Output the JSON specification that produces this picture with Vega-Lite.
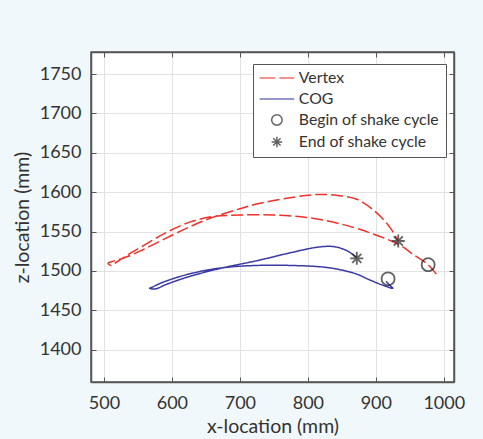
{
  "$schema": "https://vega.github.io/schema/vega-lite/v6.json",
  "width": 363,
  "height": 330,
  "autosize": "none",
  "padding": {"left": 91, "top": 52, "right": 29, "bottom": 57},
  "background": "#f1f8fc",
  "config": {
    "view": {"fill": "white", "stroke": "#555", "strokeWidth": 1.5},
    "axis": {
      "labelFont": "Lato",
      "labelFontSize": 18,
      "labelColor": "#333",
      "titleFont": "Lato",
      "titleFontSize": 19.5,
      "titleFontWeight": "normal",
      "titleColor": "#333",
      "domainColor": "#555",
      "domainWidth": 1.5,
      "gridColor": "#e2e2e2",
      "gridWidth": 1,
      "tickColor": "#555",
      "tickSize": -5,
      "tickWidth": 1,
      "format": "d"
    }
  },
  "layer": [
    {
      "data": {"values": [
        {"s": "Vertex", "o": 1, "x": 989, "z": 1496},
        {"s": "Vertex", "o": 2, "x": 977, "z": 1508},
        {"s": "Vertex", "o": 3, "x": 955, "z": 1521},
        {"s": "Vertex", "o": 4, "x": 935, "z": 1533},
        {"s": "Vertex", "o": 5, "x": 896, "z": 1547},
        {"s": "Vertex", "o": 6, "x": 847, "z": 1560},
        {"s": "Vertex", "o": 7, "x": 798, "z": 1568},
        {"s": "Vertex", "o": 8, "x": 749, "z": 1571},
        {"s": "Vertex", "o": 9, "x": 700, "z": 1571},
        {"s": "Vertex", "o": 10, "x": 660, "z": 1569},
        {"s": "Vertex", "o": 11, "x": 626, "z": 1562},
        {"s": "Vertex", "o": 12, "x": 590, "z": 1548},
        {"s": "Vertex", "o": 13, "x": 560, "z": 1533},
        {"s": "Vertex", "o": 14, "x": 538, "z": 1522},
        {"s": "Vertex", "o": 15, "x": 520, "z": 1512},
        {"s": "Vertex", "o": 16, "x": 510, "z": 1507},
        {"s": "Vertex", "o": 17, "x": 506, "z": 1510},
        {"s": "Vertex", "o": 18, "x": 512, "z": 1512},
        {"s": "Vertex", "o": 19, "x": 528, "z": 1516},
        {"s": "Vertex", "o": 20, "x": 555, "z": 1526},
        {"s": "Vertex", "o": 21, "x": 590, "z": 1541},
        {"s": "Vertex", "o": 22, "x": 626, "z": 1556},
        {"s": "Vertex", "o": 23, "x": 660, "z": 1568},
        {"s": "Vertex", "o": 24, "x": 700, "z": 1579},
        {"s": "Vertex", "o": 25, "x": 725, "z": 1585},
        {"s": "Vertex", "o": 26, "x": 774, "z": 1593},
        {"s": "Vertex", "o": 27, "x": 813, "z": 1597},
        {"s": "Vertex", "o": 28, "x": 842, "z": 1596},
        {"s": "Vertex", "o": 29, "x": 872, "z": 1591},
        {"s": "Vertex", "o": 30, "x": 901, "z": 1574},
        {"s": "Vertex", "o": 31, "x": 921, "z": 1555},
        {"s": "Vertex", "o": 32, "x": 933, "z": 1538},
        {"s": "COG", "o": 1, "x": 915, "z": 1487},
        {"s": "COG", "o": 2, "x": 920, "z": 1482},
        {"s": "COG", "o": 3, "x": 925, "z": 1478},
        {"s": "COG", "o": 4, "x": 910, "z": 1482},
        {"s": "COG", "o": 5, "x": 890, "z": 1489},
        {"s": "COG", "o": 6, "x": 872, "z": 1496},
        {"s": "COG", "o": 7, "x": 845, "z": 1502},
        {"s": "COG", "o": 8, "x": 822, "z": 1505},
        {"s": "COG", "o": 9, "x": 774, "z": 1507},
        {"s": "COG", "o": 10, "x": 725, "z": 1507},
        {"s": "COG", "o": 11, "x": 685, "z": 1505},
        {"s": "COG", "o": 12, "x": 651, "z": 1501},
        {"s": "COG", "o": 13, "x": 612, "z": 1493},
        {"s": "COG", "o": 14, "x": 585, "z": 1485},
        {"s": "COG", "o": 15, "x": 570, "z": 1479},
        {"s": "COG", "o": 16, "x": 567, "z": 1478},
        {"s": "COG", "o": 17, "x": 575, "z": 1477},
        {"s": "COG", "o": 18, "x": 592, "z": 1483},
        {"s": "COG", "o": 19, "x": 626, "z": 1493},
        {"s": "COG", "o": 20, "x": 675, "z": 1504},
        {"s": "COG", "o": 21, "x": 725, "z": 1513},
        {"s": "COG", "o": 22, "x": 774, "z": 1523},
        {"s": "COG", "o": 23, "x": 813, "z": 1530},
        {"s": "COG", "o": 24, "x": 837, "z": 1531},
        {"s": "COG", "o": 25, "x": 857, "z": 1526},
        {"s": "COG", "o": 26, "x": 872, "z": 1517}
      ]},
      "mark": {"type": "line", "strokeWidth": 1.5, "interpolate": "catmull-rom"},
      "encoding": {
        "x": {"field": "x", "type": "quantitative", "scale": {"domain": [481, 1015], "nice": false, "zero": false},
              "axis": {"values": [500, 600, 700, 800, 900, 1000], "title": "x-location (mm)", "labelPadding": 17, "titlePadding": 5, "orient": "bottom"}},
        "y": {"field": "z", "type": "quantitative", "scale": {"domain": [1359, 1778], "nice": false, "zero": false},
              "axis": {"values": [1400, 1450, 1500, 1550, 1600, 1650, 1700, 1750], "title": "z-location (mm)", "labelPadding": 15, "titlePadding": 7, "orient": "left"}},
        "order": {"field": "o", "type": "quantitative"},
        "stroke": {"field": "s", "type": "nominal", "scale": {"domain": ["Vertex", "COG"], "range": ["#f0302a", "#3a3aa6"]}, "legend": null},
        "strokeDash": {"field": "s", "type": "nominal", "scale": {"domain": ["Vertex", "COG"], "range": [[12, 4], [1, 0]]}, "legend": null}
      }
    },
    {
      "data": {"values": [
        {"s": "Begin of shake cycle", "x": 977, "z": 1508},
        {"s": "Begin of shake cycle", "x": 918, "z": 1490},
        {"s": "End of shake cycle", "x": 933, "z": 1538},
        {"s": "End of shake cycle", "x": 872, "z": 1516}
      ]},
      "mark": {"type": "point", "filled": false, "size": 170, "strokeWidth": 1.8},
      "encoding": {
        "x": {"field": "x", "type": "quantitative", "axis": {"orient": "top", "values": [500, 600, 700, 800, 900, 1000], "labels": false, "grid": false, "title": null}},
        "y": {"field": "z", "type": "quantitative", "axis": {"orient": "right", "values": [1400, 1450, 1500, 1550, 1600, 1650, 1700, 1750], "labels": false, "grid": false, "title": null}},
        "stroke": {"field": "s", "type": "nominal",
          "scale": {"domain": ["Vertex", "COG", "Begin of shake cycle", "End of shake cycle"], "range": ["#f0302a", "#3a3aa6", "#222222", "#222222"]},
          "legend": {"title": null, "orient": "none", "legendX": 162, "legendY": 12, "fillColor": "white", "strokeColor": "#555", "padding": 6, "symbolOffset": 10, "labelOffset": 14, "rowPadding": 4, "symbolSize": 110, "symbolStrokeWidth": 1.5, "labelFont": "Lato", "labelFontSize": 15.8, "labelColor": "#333", "labelLimit": 300}},
        "shape": {"field": "s", "type": "nominal",
          "scale": {"domain": ["Vertex", "COG", "Begin of shake cycle", "End of shake cycle"], "range": ["M-3.3,0L-0.3,0M0.45,0L3.3,0", "M-3.3,0L3.3,0", "circle", "M-1,0L1,0M0,-1L0,1M-0.7,-0.7L0.7,0.7M-0.7,0.7L0.7,-0.7"]},
          "legend": {"title": null, "orient": "none", "legendX": 162, "legendY": 12, "fillColor": "white", "strokeColor": "#555", "padding": 6, "symbolOffset": 10, "labelOffset": 14, "rowPadding": 4, "symbolSize": 110, "symbolStrokeWidth": 1.5, "labelFont": "Lato", "labelFontSize": 15.8, "labelColor": "#333", "labelLimit": 300}}
      }
    }
  ],
  "resolve": {"axis": {"x": "independent", "y": "independent"}, "scale": {"stroke": "independent", "shape": "independent"}}
}
